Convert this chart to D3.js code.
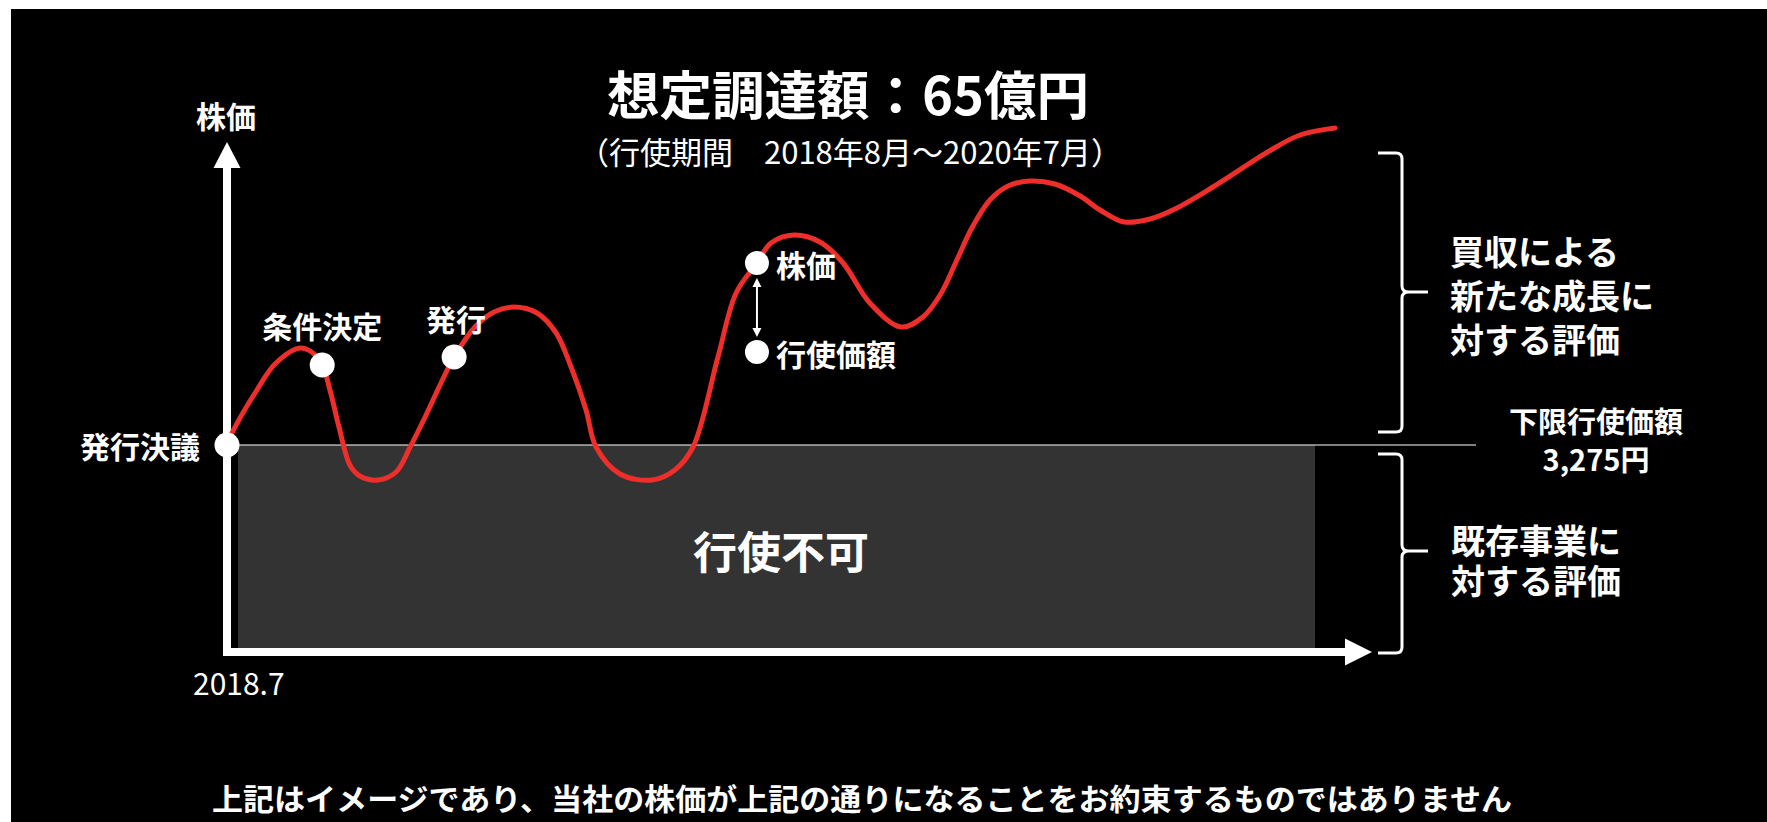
<!DOCTYPE html>
<html>
<head>
<meta charset="utf-8">
<script src="https://cdnjs.cloudflare.com/ajax/libs/d3/7.8.5/d3.min.js"></script>
<style>
  html, body { margin: 0; padding: 0; background: #ffffff; }
  svg { display: block; }
  text { font-family: "Noto Sans CJK JP", "Noto Sans", sans-serif; fill: #ffffff; }
</style>
</head>
<body>
<svg id="chart" width="1767" height="822"></svg>
<script>
// ---------- data (illustrative share-price path) ----------
// months after 2018.7, price in yen
const curveMonths = [0, 0.11, 0.66, 1.08, 1.63, 2.05, 2.27, 2.47, 2.71, 2.93, 3.33, 3.73, 4.04, 4.37, 4.72, 5.01, 5.47, 5.89, 6.33, 6.84, 7.26, 7.59, 7.92, 8.14, 8.67, 9.38, 9.88, 10.28, 10.83, 11.23, 11.69, 12.0, 12.51, 13.08, 13.59, 14.18, 14.87, 15.35, 15.73, 16.08, 16.43, 16.83, 17.23, 17.71, 18.26, 18.82, 19.26, 19.79, 20.36, 20.91, 21.75, 23.03, 23.67, 24.44];
const curvePrices = [3275, 3335, 3550, 3685, 3760, 3700, 3550, 3365, 3175, 3120, 3100, 3140, 3265, 3415, 3585, 3715, 3865, 3940, 3965, 3935, 3835, 3665, 3450, 3265, 3130, 3100, 3150, 3265, 3715, 4035, 4185, 4285, 4325, 4290, 4185, 3985, 3865, 3915, 4025, 4190, 4360, 4500, 4570, 4595, 4580, 4520, 4450, 4390, 4405, 4455, 4565, 4750, 4825, 4860];

const floorPrice = 3275;          // 下限行使価額
const floorLabel = ["下限行使価額", "3,275円"];
const periodMonths = [0, 24];     // 行使期間 2018年8月〜2020年7月

const eventLabels = ["発行決議", "条件決定", "発行"];
const eventMonths = [0, 2.10, 5.01];
const eventPrices = [3275, 3675, 3715];

const exampleLabels = ["株価", "行使価額"];
const exampleMonths = [11.69, 11.69];
const examplePrices = [4185, 3740];

const xTickLabels = ["2018.7"];
const upperBraceText = ["買収による", "新たな成長に", "対する評価"];
const lowerBraceText = ["既存事業に", "対する評価"];
const titleText = "想定調達額：65億円";
const subtitleText = "（行使期間　2018年8月～2020年7月）";
const noteText = "上記はイメージであり、当社の株価が上記の通りになることをお約束するものではありません";

// ---------- scales ----------
const x = d3.scaleLinear().domain([0, 24]).range([227, 1315]);
const y = d3.scaleLinear().domain([2240, 3275]).range([652, 445]);

const svg = d3.select("#chart");

// background panel
svg.append("rect").attr("x", 11).attr("y", 9).attr("width", 1767 - 11).attr("height", 822 - 9).attr("fill", "#000000");

// 行使不可 zone
svg.append("rect")
  .attr("x", x(periodMonths[0]) + 11)
  .attr("y", y(floorPrice))
  .attr("width", x(periodMonths[1]) - x(periodMonths[0]) - 11)
  .attr("height", y(2240) - y(floorPrice) - 4)
  .attr("fill", "#333333");

svg.append("text")
  .attr("x", (x(periodMonths[0]) + x(periodMonths[1])) / 2 + 10)
  .attr("y", 550)
  .attr("text-anchor", "middle").attr("dominant-baseline", "central")
  .attr("font-size", 44).attr("font-weight", 700)
  .text("行使不可");

// floor line
svg.append("line")
  .attr("x1", x(0)).attr("x2", 1476)
  .attr("y1", y(floorPrice)).attr("y2", y(floorPrice))
  .attr("stroke", "#ffffff").attr("stroke-width", 1);

// axes
svg.append("line")
  .attr("x1", x(0)).attr("x2", x(0))
  .attr("y1", y(2240) + 4).attr("y2", 166)
  .attr("stroke", "#ffffff").attr("stroke-width", 8);
svg.append("path")
  .attr("d", `M${x(0)},142 L${x(0) - 13.5},168 L${x(0) + 13.5},168 Z`)
  .attr("fill", "#ffffff");
svg.append("line")
  .attr("x1", x(0) - 4).attr("x2", 1347)
  .attr("y1", y(2240)).attr("y2", y(2240))
  .attr("stroke", "#ffffff").attr("stroke-width", 8);
svg.append("path")
  .attr("d", `M1372,${y(2240)} L1345,${y(2240) - 13.5} L1345,${y(2240) + 13.5} Z`)
  .attr("fill", "#ffffff");

svg.append("text")
  .attr("x", x(0) - 1).attr("y", 115)
  .attr("text-anchor", "middle").attr("dominant-baseline", "central")
  .attr("font-size", 30).attr("font-weight", 700)
  .text("株価");

svg.append("text")
  .attr("x", 193).attr("y", 682)
  .attr("dominant-baseline", "central")
  .attr("font-size", 30)
  .text(xTickLabels[0]);

// price curve
const pts = curveMonths.map((m, i) => [m, curvePrices[i]]);
svg.append("path")
  .datum(pts)
  .attr("d", d3.line().x(d => x(d[0])).y(d => y(d[1])).curve(d3.curveCatmullRom.alpha(0.5)))
  .attr("fill", "none")
  .attr("stroke", "#ee2e2a")
  .attr("stroke-width", 5)
  .attr("stroke-linecap", "round");

// event markers
svg.selectAll("circle.event")
  .data(eventMonths.map((m, i) => ({ m, p: eventPrices[i], label: eventLabels[i] })))
  .join("circle")
  .attr("class", "event")
  .attr("cx", d => x(d.m)).attr("cy", d => y(d.p)).attr("r", 12.5)
  .attr("fill", "#ffffff");

// event labels
svg.append("text")
  .attr("x", 200).attr("y", y(eventPrices[0]))
  .attr("text-anchor", "end").attr("dominant-baseline", "central")
  .attr("font-size", 30).attr("font-weight", 700)
  .text(eventLabels[0]);
svg.append("text")
  .attr("x", x(eventMonths[1])).attr("y", 325)
  .attr("text-anchor", "middle").attr("dominant-baseline", "central")
  .attr("font-size", 30).attr("font-weight", 700)
  .text(eventLabels[1]);
svg.append("text")
  .attr("x", x(eventMonths[2]) + 2).attr("y", 318)
  .attr("text-anchor", "middle").attr("dominant-baseline", "central")
  .attr("font-size", 30).attr("font-weight", 700)
  .text(eventLabels[2]);

// example: 株価 vs 行使価額
const ex = exampleMonths.map((m, i) => ({ m, p: examplePrices[i], label: exampleLabels[i] }));
const ax = x(ex[0].m);
const ay1 = y(ex[0].p) + 15, ay2 = y(ex[1].p) - 15;
svg.append("line").attr("x1", ax).attr("x2", ax).attr("y1", ay1 + 6).attr("y2", ay2 - 6)
  .attr("stroke", "#ffffff").attr("stroke-width", 2);
svg.append("path").attr("d", `M${ax},${ay1} L${ax - 4.5},${ay1 + 9} L${ax + 4.5},${ay1 + 9} Z`).attr("fill", "#ffffff");
svg.append("path").attr("d", `M${ax},${ay2} L${ax - 4.5},${ay2 - 9} L${ax + 4.5},${ay2 - 9} Z`).attr("fill", "#ffffff");
svg.selectAll("circle.ex").data(ex).join("circle")
  .attr("class", "ex")
  .attr("cx", d => x(d.m)).attr("cy", d => y(d.p)).attr("r", 12)
  .attr("fill", "#ffffff");
svg.selectAll("text.ex").data(ex).join("text")
  .attr("class", "ex")
  .attr("x", d => x(d.m) + 19).attr("y", d => y(d.p) + 1)
  .attr("dominant-baseline", "central")
  .attr("font-size", 30).attr("font-weight", 700)
  .text(d => d.label);

// title
svg.append("text")
  .attr("x", 848).attr("y", 92)
  .attr("text-anchor", "middle").attr("dominant-baseline", "central")
  .attr("font-size", 52.5).attr("font-weight", 700)
  .text(titleText);
svg.append("text")
  .attr("x", 850).attr("y", 150)
  .attr("text-anchor", "middle").attr("dominant-baseline", "central")
  .attr("font-size", 31)
  .text(subtitleText);

// braces
function brace(top, mid, bottom) {
  const xe = 1378, xv = 1402, xt = 1428, r = 6;
  return `M${xe},${top} L${xv - r},${top} Q${xv},${top} ${xv},${top + r} ` +
         `L${xv},${mid - 6} Q${xv},${mid} ${xv + 7},${mid} L${xt},${mid} ` +
         `M${xv + 7},${mid} Q${xv},${mid} ${xv},${mid + 6} ` +
         `L${xv},${bottom - r} Q${xv},${bottom} ${xv - r},${bottom} L${xe},${bottom}`;
}
svg.append("path").attr("d", brace(153, 292, 432))
  .attr("fill", "none").attr("stroke", "#ffffff").attr("stroke-width", 3);
svg.append("path").attr("d", brace(454, 551, 653))
  .attr("fill", "none").attr("stroke", "#ffffff").attr("stroke-width", 3);

// brace descriptions (multi-line texts)
function multiline(lines, x0, y0, step, size, anchor) {
  const t = svg.append("text")
    .attr("x", x0).attr("y", y0)
    .attr("text-anchor", anchor || "start")
    .attr("dominant-baseline", "central")
    .attr("font-size", size).attr("font-weight", 700);
  t.selectAll("tspan").data(lines).join("tspan")
    .attr("x", x0).attr("y", (d, i) => y0 + i * step)
    .text(d => d);
}
multiline(upperBraceText, 1450, 250, 44, 34);
multiline(lowerBraceText, 1451, 539, 40, 34);
multiline(floorLabel, 1596, 420, 38, 29, "middle");

// footnote
svg.append("text")
  .attr("x", 212).attr("y", 797)
  .attr("dominant-baseline", "central")
  .attr("font-size", 30).attr("font-weight", 700)
  .attr("textLength", 1300).attr("lengthAdjust", "spacingAndGlyphs")
  .text(noteText);
</script>
</body>
</html>
